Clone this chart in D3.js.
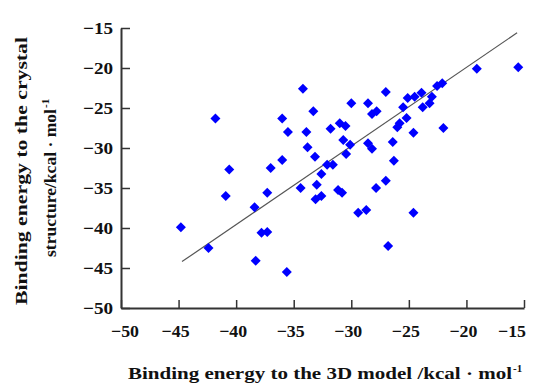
<!DOCTYPE html>
<html>
<head>
<meta charset="utf-8">
<script src="https://cdn.jsdelivr.net/npm/d3@7"></script>
<style>
  html, body { margin: 0; padding: 0; background: #fff; }
  svg { display: block; }
  text { font-family: "Liberation Serif", "Times New Roman", serif; font-weight: bold; fill: #111; }
</style>
</head>
<body>
<svg id="chart" width="536" height="387"></svg>
<script>
// ---- data ----
const modelEnergy = [
  -41.8, -44.8, -42.4, -40.6, -40.9, -38.4, -37.3, -37.8, -37.3, -38.3,
  -37.0, -36.0, -36.0, -35.5, -33.9, -34.2, -33.3, -33.8, -33.15, -35.6,
  -34.4, -33.0, -33.1, -32.6, -32.6, -32.1, -31.6, -31.8, -31.0, -30.5,
  -30.0, -28.55, -27.0, -28.2, -27.8, -30.7, -30.1, -30.45, -31.15, -30.8,
  -28.55, -28.2, -26.4, -26.3, -27.0, -27.85, -29.4, -28.7, -24.6, -26.8,
  -24.6, -26.0, -25.8, -25.2, -25.5, -25.1, -24.5, -23.9, -23.8, -23.2,
  -23.0, -22.55, -22.1, -19.1, -15.5, -22.0
];
const crystalEnergy = [
  -26.3, -39.9, -42.5, -32.7, -36.0, -37.4, -35.6, -40.6, -40.5, -44.1,
  -32.5, -31.5, -26.3, -28.0, -28.0, -22.6, -25.4, -29.9, -31.1, -45.5,
  -35.0, -34.6, -36.4, -36.0, -33.25, -32.1, -32.1, -27.6, -26.9, -27.25,
  -24.4, -24.4, -23.0, -25.75, -25.4, -29.0, -29.6, -30.75, -35.25, -35.6,
  -29.4, -30.1, -29.25, -31.6, -34.1, -35.0, -38.1, -37.75, -38.1, -42.25,
  -28.1, -27.4, -26.9, -26.25, -24.9, -23.75, -23.6, -23.1, -24.9, -24.4,
  -23.6, -22.25, -21.9, -20.1, -19.9, -27.5
];
const fitLineX = [-44.7, -15.6];
const fitLineY = [-44.2, -15.6];
const xTicks = [-50, -45, -40, -35, -30, -25, -20, -15];
const yTicks = [-15, -20, -25, -30, -35, -40, -45, -50];
const xDomain = [-50, -15];
const yDomain = [-50, -15];

// ---- layout ----
const svg = d3.select("#chart");
const mLeft = 121, mRight = 524, mTop = 28, mBottom = 308;
const x = d3.scaleLinear().domain(xDomain).range([mLeft, mRight]);
const y = d3.scaleLinear().domain(yDomain).range([mBottom, mTop]);

// axes
const xAxis = d3.axisTop(x).tickValues(xTicks).tickSize(8).tickSizeOuter(0).tickFormat(d3.format("d"));
const yAxis = d3.axisRight(y).tickValues(yTicks).tickSize(9).tickSizeOuter(0).tickFormat(d3.format("d"));

const gx = svg.append("g").attr("transform", `translate(0,${mBottom})`).call(xAxis);
gx.select(".domain").attr("stroke", "#333").attr("stroke-width", 2);
gx.selectAll(".tick line").attr("stroke", "#333").attr("stroke-width", 1.5);
gx.selectAll(".tick text").remove();

const gy = svg.append("g").attr("transform", `translate(${mLeft},0)`).call(yAxis);
gy.select(".domain").attr("stroke", "#333").attr("stroke-width", 2);
gy.selectAll(".tick line").attr("stroke", "#333").attr("stroke-width", 1.5);
gy.selectAll(".tick text").remove();

// tick labels
svg.append("g").selectAll("text").data(xTicks).join("text")
  .attr("x", d => x(d) - (d === -50 ? -4 : (d === -15 ? 12 : 3)))
  .attr("y", 337)
  .attr("text-anchor", "middle")
  .attr("font-size", 17)
  .attr("textLength", 28)
  .attr("lengthAdjust", "spacingAndGlyphs")
  .text(d => d3.format("d")(d));

svg.append("g").selectAll("text").data(yTicks).join("text")
  .attr("x", 113)
  .attr("y", d => y(d) + 6)
  .attr("text-anchor", "end")
  .attr("font-size", 17)
  .attr("textLength", 30)
  .attr("lengthAdjust", "spacingAndGlyphs")
  .text(d => d3.format("d")(d));

// fit line
svg.append("line")
  .attr("x1", x(fitLineX[0])).attr("y1", y(fitLineY[0]))
  .attr("x2", x(fitLineX[1])).attr("y2", y(fitLineY[1]))
  .attr("stroke", "#555").attr("stroke-width", 1.2);

// points
const pts = modelEnergy.map((v, i) => ({ mx: v, cy: crystalEnergy[i] }));
const sym = d3.symbol().type(d3.symbolSquare).size(50);
svg.append("g").selectAll("path").data(pts).join("path")
  .attr("d", sym)
  .attr("transform", d => `translate(${x(d.mx)},${y(d.cy)}) rotate(45)`)
  .attr("fill", "#0000ff");

// x title
svg.append("text").attr("x", 128).attr("y", 379).attr("font-size", 17)
  .attr("textLength", 384).attr("lengthAdjust", "spacingAndGlyphs")
  .text("Binding energy to the 3D model /kcal · mol");
svg.append("text").attr("x", 513).attr("y", 372).attr("font-size", 11).text("-1");

// y title (rotated)
const yt = svg.append("g");
yt.append("text").attr("transform", "translate(27,171) rotate(-90)")
  .attr("text-anchor", "middle").attr("font-size", 17)
  .attr("textLength", 268).attr("lengthAdjust", "spacingAndGlyphs")
  .text("Binding energy to the  crystal");
yt.append("text").attr("transform", "translate(56,183) rotate(-90)")
  .attr("text-anchor", "middle").attr("font-size", 17)
  .attr("textLength", 148).attr("lengthAdjust", "spacingAndGlyphs")
  .text("structure/kcal · mol");
yt.append("text").attr("transform", "translate(49,108) rotate(-90)")
  .attr("text-anchor", "start").attr("font-size", 11)
  .text("-1");
</script>
</body>
</html>
